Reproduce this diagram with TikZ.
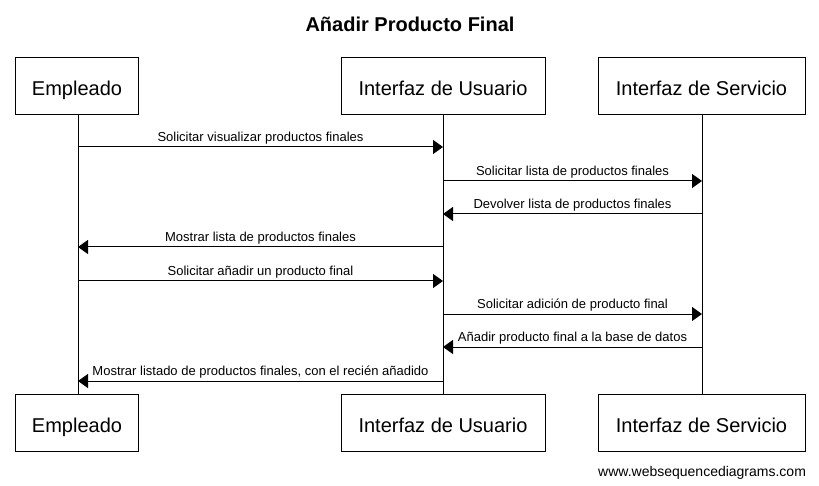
\documentclass[tikz,border=0pt]{standalone}
\usepackage{fontspec}
\setmainfont{Liberation Sans}
\usetikzlibrary{arrows.meta,positioning}

\tikzset{
  actor/.style={draw, line width=1pt, minimum height=57pt, inner sep=0pt,
    text height=19pt, text depth=0pt, font=\fontsize{20}{23}\selectfont},
  life/.style={line width=1pt},
  msg/.style={-{Triangle[length=10pt,width=14pt]}, line width=1pt},
  msglabel/.style={font=\fontsize{13}{15}\selectfont, above, inner sep=5pt, text depth=0pt}
}

\begin{document}
\begin{tikzpicture}[x=1pt,y=-1pt]
  \useasboundingbox (0,0) rectangle (819,486);
  \node[font=\bfseries\fontsize{20}{23}\selectfont, anchor=base] (title) at (410,32) {Añadir Producto Final};

  % participants, top and bottom
  \node[actor, minimum width=123pt] (empA) at (77,86) {Empleado};
  \node[actor, minimum width=204pt] (usuA) at (443,86) {Interfaz de Usuario};
  \node[actor, minimum width=207pt] (serA) at (701.5,86) {Interfaz de Servicio};
  \node[actor, minimum width=123pt] (empB) at (77,423) {Empleado};
  \node[actor, minimum width=204pt] (usuB) at (443,423) {Interfaz de Usuario};
  \node[actor, minimum width=207pt] (serB) at (701.5,423) {Interfaz de Servicio};

  % lifelines
  \draw[life] (empA.south -| 78,0) -- (empB.north -| 78,0);
  \draw[life] (usuA) -- (usuB);
  \draw[life] (serA.south -| 702,0) -- (serB.north -| 702,0);

  % points on the lifelines
  \foreach \i/\y in {1/147,2/181,3/214,4/247,5/281,6/314,7/347,8/381} {
    \coordinate (e\i) at (78,\y);
    \coordinate (u\i) at (443,\y);
    \coordinate (s\i) at (702,\y);
  }

  \draw[msg] (e1) -- node[msglabel] {Solicitar visualizar productos finales} (u1);
  \draw[msg] (u2) -- node[msglabel] {Solicitar lista de productos finales} (s2);
  \draw[msg] (s3) -- node[msglabel] {Devolver lista de productos finales} (u3);
  \draw[msg] (u4) -- node[msglabel] {Mostrar lista de productos finales} (e4);
  \draw[msg] (e5) -- node[msglabel] {Solicitar añadir un producto final} (u5);
  \draw[msg] (u6) -- node[msglabel] {Solicitar adición de producto final} (s6);
  \draw[msg] (s7) -- node[msglabel] {Añadir producto final a la base de datos} (u7);
  \draw[msg] (u8) -- node[msglabel] {Mostrar listado de productos finales, con el recién añadido} (e8);

  \node[font=\fontsize{14}{16}\selectfont, anchor=base west, inner sep=0pt] (mark) at (598,476) {www.websequencediagrams.com};
\end{tikzpicture}
\end{document}
